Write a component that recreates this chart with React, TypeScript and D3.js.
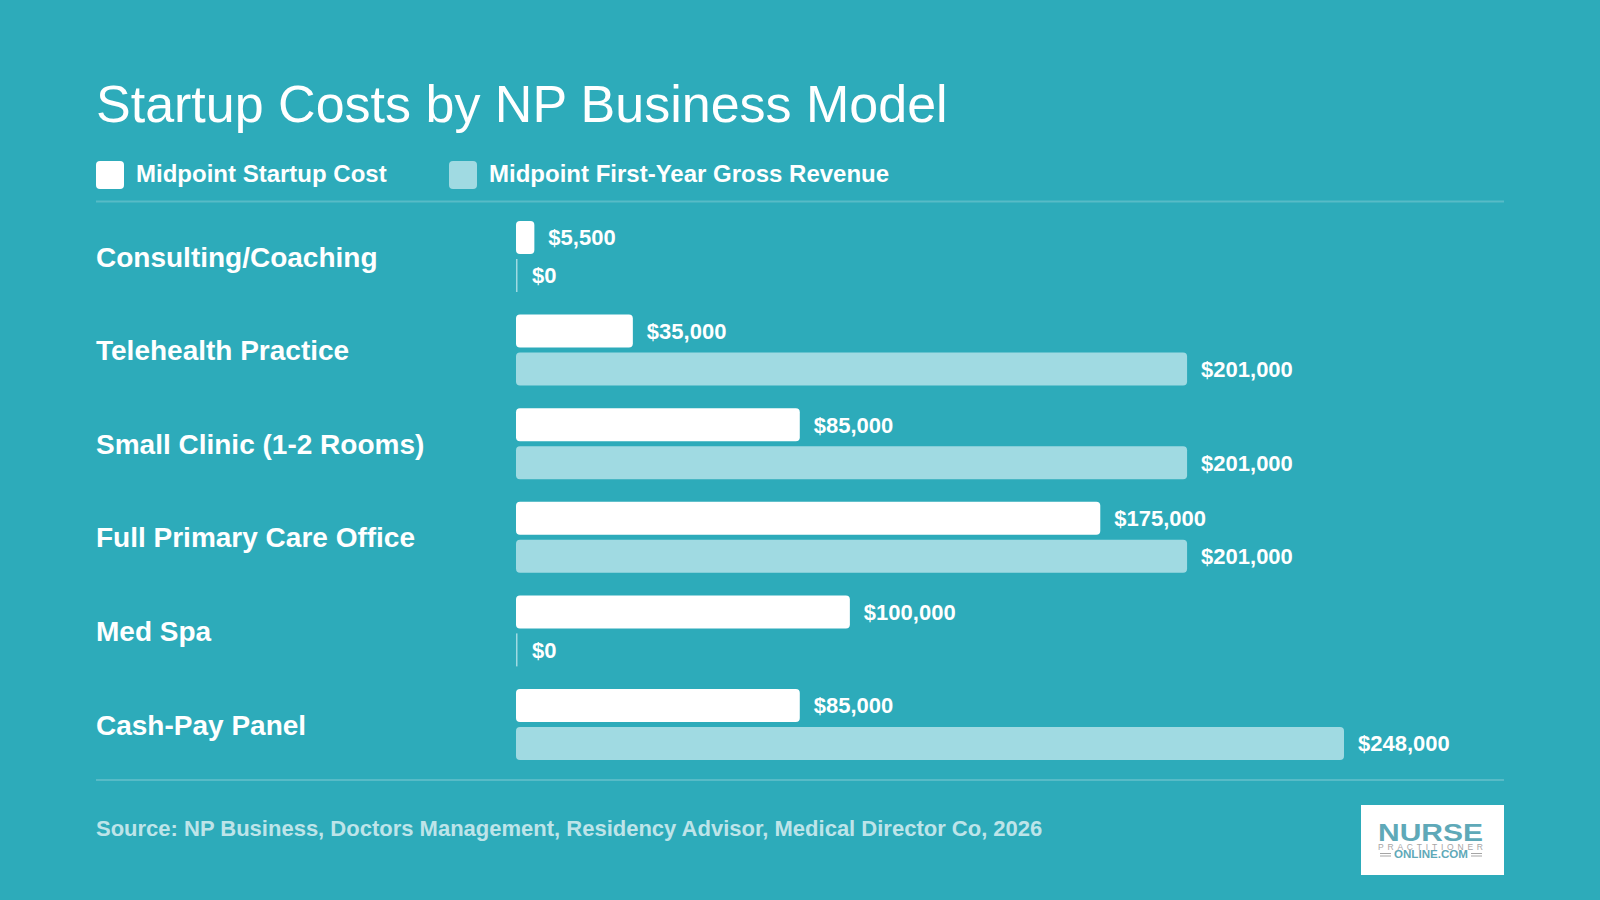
import React from 'react';
import * as d3 from 'd3';

const categories = [
  'Consulting/Coaching',
  'Telehealth Practice',
  'Small Clinic (1-2 Rooms)',
  'Full Primary Care Office',
  'Med Spa',
  'Cash-Pay Panel',
];
const startupCost = [5500, 35000, 85000, 175000, 100000, 85000];
const grossRevenue = [0, 201000, 201000, 201000, 0, 248000];
const legendLabels = ['Midpoint Startup Cost', 'Midpoint First-Year Gross Revenue'];
const titleText = 'Startup Costs by NP Business Model';
const sourceText = 'Source: NP Business, Doctors Management, Residency Advisor, Medical Director Co, 2026';

const BG = '#2dabba';
const LIGHT = '#a0dae2';
const FONT = '"Liberation Sans", Arial, sans-serif';

const barH = 33;
const x = d3.scaleLinear().domain([0, 248000]).range([516, 1344]);
const rowY = d3
  .scaleBand<string>()
  .domain(categories)
  .range([221, 221 + 93.6 * 6]);
const money = (v: number) => '$' + d3.format(',')(v);

const Bar = ({ value, y, fill }: { value: number; y: number; fill: string }) => {
  const w = x(value) - x(0);
  return (
    <g>
      {value === 0 ? (
        <rect x={x(0)} y={y} width={1.5} height={barH} fill={LIGHT} />
      ) : (
        <rect x={x(0)} y={y} width={w} height={barH} rx={4} fill={fill} />
      )}
      <text
        x={value === 0 ? x(0) + 16 : x(value) + 14}
        y={y + barH / 2}
        dy="0.36em"
        fill="#fff"
        fontSize={22}
        fontWeight={700}
      >
        {money(value)}
      </text>
    </g>
  );
};

export default function App() {
  return (
    <svg
      width={1600}
      height={900}
      viewBox="0 0 1600 900"
      style={{ position: 'fixed', left: 0, top: 0, display: 'block' }}
      fontFamily={FONT}
    >
      <rect width={1600} height={900} fill={BG} />
      <text x={96} y={122} fill="#fff" fontSize={52}>
        {titleText}
      </text>

      {/* Legend */}
      <rect x={96} y={161} width={28} height={28} rx={4} fill="#fff" />
      <text x={136} y={181.5} fill="#fff" fontSize={24} fontWeight={700}>
        {legendLabels[0]}
      </text>
      <rect x={449} y={161} width={28} height={28} rx={4} fill={LIGHT} />
      <text x={489} y={181.5} fill="#fff" fontSize={24} fontWeight={700}>
        {legendLabels[1]}
      </text>
      <rect x={96} y={200.5} width={1408} height={2} fill="#fff" opacity={0.2} />

      {/* Rows */}
      {categories.map((c, i) => {
        const y = rowY(c)!;
        return (
          <g key={c}>
            <text x={96} y={y + 35.5} dy="0.36em" fill="#fff" fontSize={28} fontWeight={700}>
              {c}
            </text>
            <Bar value={startupCost[i]} y={y} fill="#fff" />
            <Bar value={grossRevenue[i]} y={y + 38} fill={LIGHT} />
          </g>
        );
      })}

      <rect x={96} y={779} width={1408} height={2} fill="#fff" opacity={0.2} />
      <text x={96} y={835.5} fill="#fff" fillOpacity={0.7} fontSize={22} fontWeight={700}>
        {sourceText}
      </text>

      {/* Logo */}
      <rect x={1361} y={805} width={143} height={70} fill="#fff" />
      <text x={1378} y={841} fill="#5fa9b8" fontSize={23} fontWeight={700} textLength={105} lengthAdjust="spacingAndGlyphs">
        NURSE
      </text>
      <text x={1378} y={849.5} fill="#a5a5a5" fontSize={8.5} textLength={105} lengthAdjust="spacing">
        PRACTITIONER
      </text>
      <text x={1394} y={858} fill="#5fa9b8" fontSize={10.5} fontWeight={700} textLength={74} lengthAdjust="spacingAndGlyphs">
        ONLINE.COM
      </text>
      <rect x={1380} y={853} width={11} height={1} fill="#a5a5a5" />
      <rect x={1380} y={855.5} width={11} height={1} fill="#a5a5a5" />
      <rect x={1471} y={853} width={11} height={1} fill="#a5a5a5" />
      <rect x={1471} y={855.5} width={11} height={1} fill="#a5a5a5" />
    </svg>
  );
}
